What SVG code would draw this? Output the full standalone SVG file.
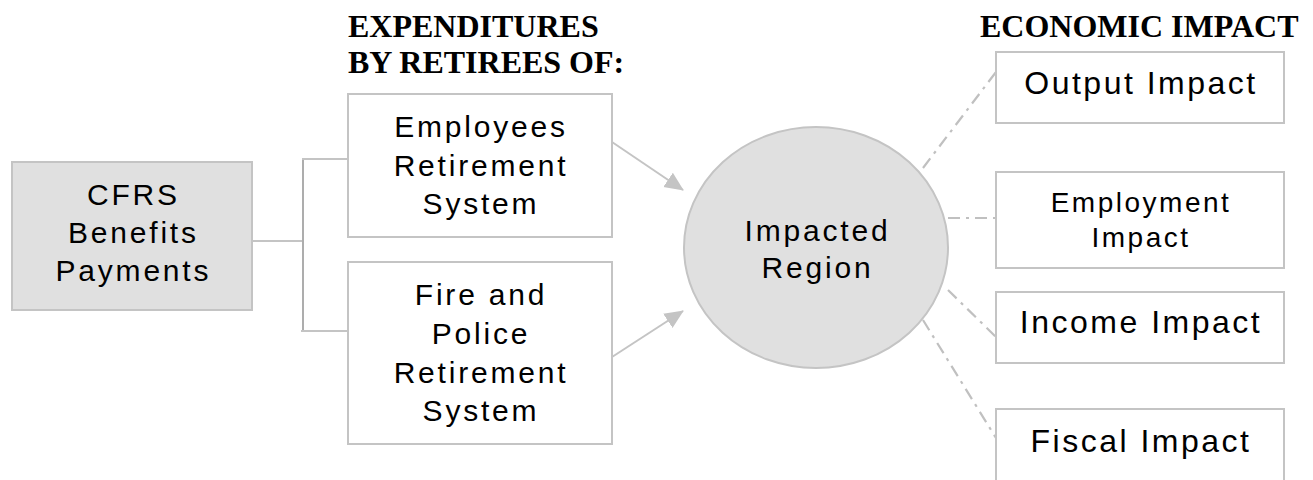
<svg xmlns="http://www.w3.org/2000/svg" width="1313" height="480" viewBox="0 0 1313 480">
<style>
.box{fill:#ffffff;stroke:#c4c4c4;stroke-width:2}
.grey{fill:#e0e0e0;stroke:#c4c4c4;stroke-width:2}
.t{font-family:"Liberation Sans",Arial,sans-serif;font-size:30px;letter-spacing:2.8px;fill:#000;text-anchor:middle}
.t32{font-size:32px;letter-spacing:2.5px}
.t28{font-size:28px;letter-spacing:2.5px}
.h{font-family:"Liberation Serif","Times New Roman",serif;font-size:32px;font-weight:bold;fill:#000}
.ln{stroke:#c4c4c4;stroke-width:2;fill:none}
.dd{stroke:#c0c0c0;stroke-width:2.2;fill:none;stroke-dasharray:12 6 3 6}
</style>
<defs>
<marker id="arrow" viewBox="0 0 20 20" refX="19" refY="10" markerWidth="19" markerHeight="19" markerUnits="userSpaceOnUse" orient="auto">
<path d="M0,1 L20,10 L0,19 z" fill="#c4c4c4"/>
</marker>
</defs>
<g id="headings">
<text class="h" x="348" y="37">EXPENDITURES</text>
<text class="h" x="348" y="73">BY RETIREES OF:</text>
<text class="h" x="980" y="37">ECONOMIC IMPACT</text>
</g>
<g id="connectors">
<line class="ln" x1="252" y1="241" x2="302" y2="241"/>
<line x1="303" y1="158" x2="303" y2="332" stroke="#adadad" stroke-width="2"/>
<line class="ln" x1="302" y1="159" x2="352" y2="159"/>
<line class="ln" x1="301" y1="331" x2="350" y2="331"/>
<line class="ln" x1="612" y1="142" x2="683" y2="190" marker-end="url(#arrow)"/>
<line class="ln" x1="612" y1="357" x2="683" y2="311" marker-end="url(#arrow)"/>
<line class="dd" x1="923" y1="168" x2="996" y2="72"/>
<line class="dd" x1="948" y1="218" x2="996" y2="218"/>
<line class="dd" x1="948" y1="290" x2="996" y2="337"/>
<line class="dd" x1="923" y1="320" x2="996" y2="438"/>
</g>
<g id="cfrs">
<rect class="grey" x="12" y="162" width="240" height="148"/>
<text class="t" x="133.4" y="205">CFRS</text>
<text class="t" x="133.4" y="243">Benefits</text>
<text class="t" x="133.4" y="281">Payments</text>
</g>
<g id="employees">
<rect class="box" x="348" y="94" width="264" height="143"/>
<text class="t" x="481" y="137">Employees</text>
<text class="t" x="481" y="176">Retirement</text>
<text class="t" x="481" y="214">System</text>
</g>
<g id="firepolice">
<rect class="box" x="348" y="262" width="264" height="182"/>
<text class="t" x="481" y="305">Fire and</text>
<text class="t" x="481" y="344">Police</text>
<text class="t" x="481" y="383">Retirement</text>
<text class="t" x="481" y="421">System</text>
</g>
<g id="region">
<ellipse cx="816" cy="247.5" rx="132" ry="120.5" fill="#e0e0e0" stroke="#c4c4c4" stroke-width="2"/>
<text class="t" x="817.5" y="241">Impacted</text>
<text class="t" x="817.5" y="278">Region</text>
</g>
<g id="output">
<rect class="box" x="996" y="52" width="288" height="71"/>
<text class="t t32" x="1141" y="94">Output Impact</text>
</g>
<g id="employment">
<rect class="box" x="996" y="172" width="288" height="96"/>
<text class="t t28" x="1141" y="212">Employment</text>
<text class="t t28" x="1141" y="247">Impact</text>
</g>
<g id="income">
<rect class="box" x="996" y="292" width="288" height="71"/>
<text class="t t32" x="1141" y="333">Income Impact</text>
</g>
<g id="fiscal">
<rect class="box" x="996" y="409" width="288" height="80"/>
<text class="t t32" x="1141" y="452">Fiscal Impact</text>
</g>
</svg>
